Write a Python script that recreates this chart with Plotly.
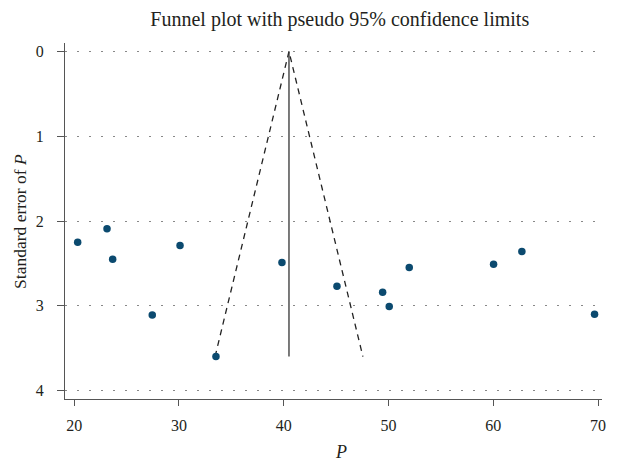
import plotly.graph_objects as go

# Study estimates (P) and their standard errors
p_values = [20.33, 23.13, 23.67, 27.45, 30.10, 33.53, 39.83, 45.08, 49.44, 50.07, 51.98, 60.03, 62.73, 69.67]
se_values = [2.25, 2.09, 2.45, 3.11, 2.29, 3.60, 2.49, 2.77, 2.84, 3.01, 2.55, 2.51, 2.36, 3.10]

pooled = 40.5
se_max = 3.6
z = 1.96

x_ticks = [20, 30, 40, 50, 60, 70]
y_ticks = [0, 1, 2, 3, 4]

font_family = "Liberation Serif"
axis_color = "#555555"
text_color = "#231f20"

fig = go.Figure()

# pseudo 95% confidence limits
fig.add_trace(go.Scatter(
    x=[pooled - z * se_max, pooled, pooled + z * se_max],
    y=[se_max, 0, se_max],
    mode="lines",
    line=dict(color="#222222", width=1.3, dash="6px,5px"),
    hoverinfo="skip",
    showlegend=False,
))

# pooled estimate line
fig.add_trace(go.Scatter(
    x=[pooled, pooled],
    y=[0, se_max],
    mode="lines",
    line=dict(color="#333333", width=1.3),
    hoverinfo="skip",
    showlegend=False,
))

fig.add_trace(go.Scatter(
    x=p_values,
    y=se_values,
    mode="markers",
    marker=dict(color="#0b4a6f", size=7.5),
    showlegend=False,
))

fig.update_layout(
    width=611,
    height=454,
    margin=dict(l=57, r=17, t=35, b=63, autoexpand=False),
    plot_bgcolor="white",
    paper_bgcolor="white",
    font=dict(family=font_family, size=16, color=text_color),
    title=dict(
        text="Funnel plot with pseudo 95% confidence limits",
        x=0.543, xanchor="center", y=0.976, yanchor="middle",
        xref="container", yref="container",
        font=dict(family=font_family, size=20, color=text_color),
    ),
    annotations=[
        dict(
            text="Standard error of <i>P</i>",
            xref="paper", yref="paper",
            x=-0.084, y=0.5, xanchor="center", yanchor="middle",
            textangle=-90, showarrow=False,
            font=dict(family=font_family, size=17.5, color=text_color),
        ),
        dict(
            text="<i>P</i>",
            xref="paper", yref="paper",
            x=0.514, y=-0.149, xanchor="center", yanchor="middle",
            showarrow=False,
            font=dict(family=font_family, size=18, color=text_color),
        ),
    ],
)

fig.update_xaxes(
    range=[19.12, 70.38],
    tickvals=x_ticks,
    ticks="outside",
    ticklen=6,
    tickcolor=axis_color,
    tickwidth=1.3,
    showline=True,
    linecolor=axis_color,
    linewidth=1.3,
    showgrid=False,
    zeroline=False,
    automargin=False,
    ticklabelstandoff=6,
    tickfont=dict(family=font_family, size=16, color=text_color),
)

fig.update_yaxes(
    range=[4.10, -0.10],
    tickvals=y_ticks,
    ticks="outside",
    ticklen=7,
    tickcolor=axis_color,
    tickwidth=1.3,
    showline=True,
    linecolor=axis_color,
    linewidth=1.3,
    showgrid=True,
    gridcolor="#888888",
    gridwidth=1.2,
    griddash="1.5px,10.5px",
    zeroline=False,
    automargin=False,
    ticklabelstandoff=10,
    tickfont=dict(family=font_family, size=16, color=text_color),
)

fig.write_html("out.html")
